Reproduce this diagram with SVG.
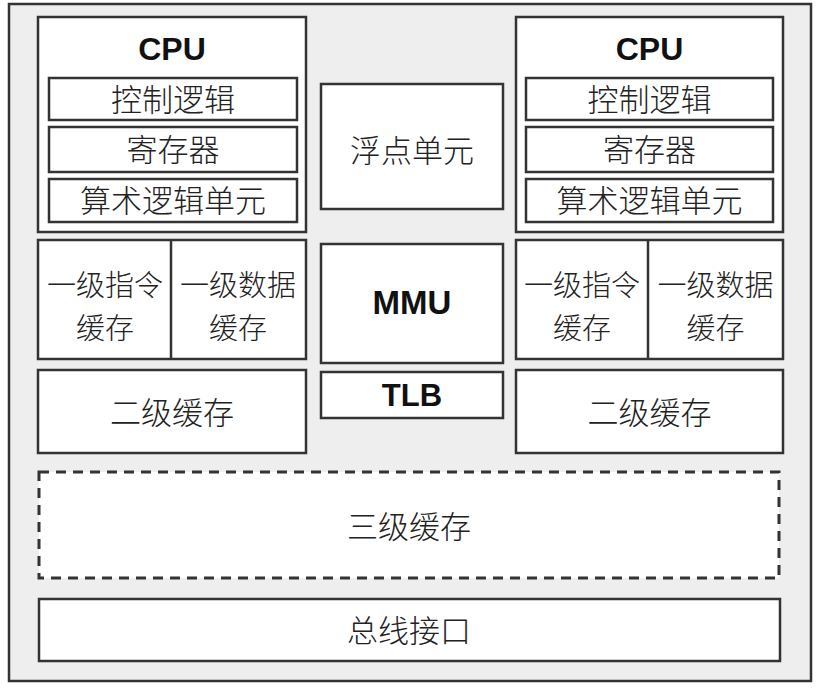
<svg xmlns="http://www.w3.org/2000/svg" width="819" height="695" viewBox="0 0 819 695">
<style>
  .box { fill: #ffffff; stroke: #333333; stroke-width: 2.5; }
  .dash { fill: #ffffff; stroke: #333333; stroke-width: 3; stroke-dasharray: 10 7; }
  .zh { font-family: "Noto Sans CJK SC", "Liberation Serif", serif; font-size: 31px; fill: #222222; text-anchor: middle; font-weight: 300; }
  .zh2 { font-size: 29px; }
  .en { font-family: "Liberation Sans", Arial, sans-serif; font-weight: bold; fill: #111111; text-anchor: middle; }
</style>
<rect x="0" y="0" width="819" height="695" fill="#ffffff"/>
<g id="frame">
  <rect x="9" y="4" width="802" height="677" fill="#eeeeee" stroke="#333333" stroke-width="2.5"/>
</g>
<g id="cpu-left">
  <rect class="box" x="38" y="17" width="268" height="215"/>
  <text class="en" x="172" y="60" font-size="32">CPU</text>
  <g id="ctrl-left">
    <rect class="box" x="49" y="78" width="248" height="42"/>
    <text class="zh" x="173" y="111">控制逻辑</text>
  </g>
  <g id="reg-left">
    <rect class="box" x="49" y="127" width="248" height="45"/>
    <text class="zh" x="173" y="161">寄存器</text>
  </g>
  <g id="alu-left">
    <rect class="box" x="49" y="179" width="248" height="43"/>
    <text class="zh" x="173" y="212">算术逻辑单元</text>
  </g>
</g>
<g id="l1-left">
  <rect class="box" x="38" y="240" width="268" height="119"/>
  <line x1="171" y1="240" x2="171" y2="359" stroke="#333333" stroke-width="2.5"/>
  <text class="zh zh2" x="105" y="295.5">一级指令</text>
  <text class="zh zh2" x="105" y="338.5">缓存</text>
  <text class="zh zh2" x="238" y="295.5">一级数据</text>
  <text class="zh zh2" x="238" y="338.5">缓存</text>
</g>
<g id="l2-left">
  <rect class="box" x="38" y="370" width="268" height="83"/>
  <text class="zh" x="172" y="424">二级缓存</text>
</g>
<g id="fpu">
  <rect class="box" x="321" y="84" width="182" height="125"/>
  <text class="zh" x="412" y="162">浮点单元</text>
</g>
<g id="mmu">
  <rect class="box" x="321" y="244" width="182" height="119"/>
  <text class="en" x="412" y="314" font-size="33">MMU</text>
</g>
<g id="tlb">
  <rect class="box" x="321" y="372" width="182" height="46"/>
  <text class="en" x="412" y="406" font-size="31">TLB</text>
</g>
<g id="cpu-right">
  <rect class="box" x="516" y="17" width="267" height="215"/>
  <text class="en" x="649.5" y="60" font-size="32">CPU</text>
  <g id="ctrl-right">
    <rect class="box" x="526" y="78" width="247" height="42"/>
    <text class="zh" x="649.5" y="111">控制逻辑</text>
  </g>
  <g id="reg-right">
    <rect class="box" x="526" y="127" width="247" height="45"/>
    <text class="zh" x="649.5" y="161">寄存器</text>
  </g>
  <g id="alu-right">
    <rect class="box" x="526" y="179" width="247" height="43"/>
    <text class="zh" x="649.5" y="212">算术逻辑单元</text>
  </g>
</g>
<g id="l1-right">
  <rect class="box" x="516" y="240" width="267" height="119"/>
  <line x1="648" y1="240" x2="648" y2="359" stroke="#333333" stroke-width="2.5"/>
  <text class="zh zh2" x="582" y="295.5">一级指令</text>
  <text class="zh zh2" x="582" y="338.5">缓存</text>
  <text class="zh zh2" x="715.5" y="295.5">一级数据</text>
  <text class="zh zh2" x="715.5" y="338.5">缓存</text>
</g>
<g id="l2-right">
  <rect class="box" x="516" y="370" width="267" height="83"/>
  <text class="zh" x="649.5" y="424">二级缓存</text>
</g>
<g id="l3">
  <rect class="dash" x="39" y="472" width="740" height="106"/>
  <text class="zh" x="409" y="538">三级缓存</text>
</g>
<g id="bus">
  <rect class="box" x="39" y="599" width="741" height="62"/>
  <text class="zh" x="409" y="642">总线接口</text>
</g>
<g id="connectors"></g>
</svg>
